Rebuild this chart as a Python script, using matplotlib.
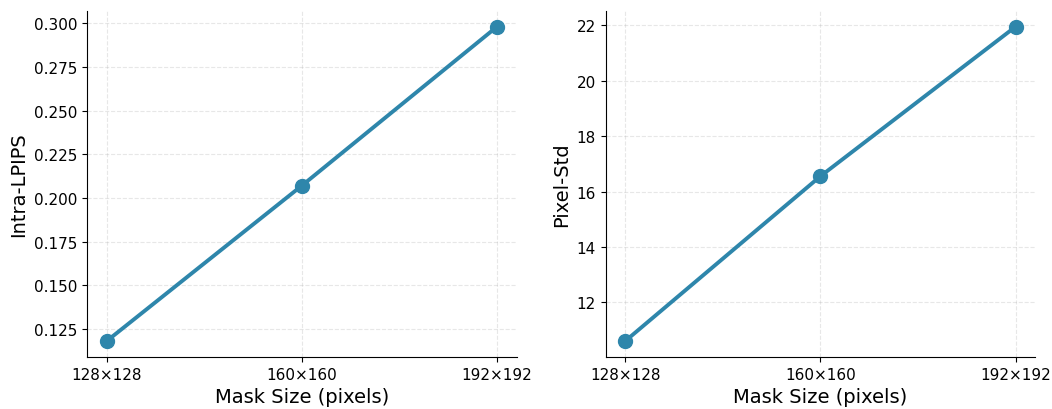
import matplotlib
matplotlib.use('Agg')
import matplotlib.pyplot as plt

mask_sizes = ['128×128', '160×160', '192×192']
intra_lpips = [0.118, 0.207, 0.298]
pixel_std = [10.6, 16.55, 21.95]

color = '#2E86AB'

fig, axes = plt.subplots(1, 2, figsize=(10.52, 4.1), dpi=100)
fig.subplots_adjust(left=0.0827, right=0.984, bottom=0.127, top=0.971, wspace=0.207)

for ax, vals, label in zip(axes, [intra_lpips, pixel_std], ['Intra-LPIPS', 'Pixel-Std']):
    ax.plot(range(len(mask_sizes)), vals, '-o', color=color, linewidth=2.8, markersize=10)
    ax.set_xticks(range(len(mask_sizes)))
    ax.set_xticklabels(mask_sizes, fontsize=11)
    ax.tick_params(axis='y', labelsize=11)
    ax.set_xlabel('Mask Size (pixels)', fontsize=14)
    ax.set_ylabel(label, fontsize=14)
    ax.grid(True, linestyle='--', alpha=0.3)
    ax.spines['top'].set_visible(False)
    ax.spines['right'].set_visible(False)

fig.savefig('out.png', dpi=100)
